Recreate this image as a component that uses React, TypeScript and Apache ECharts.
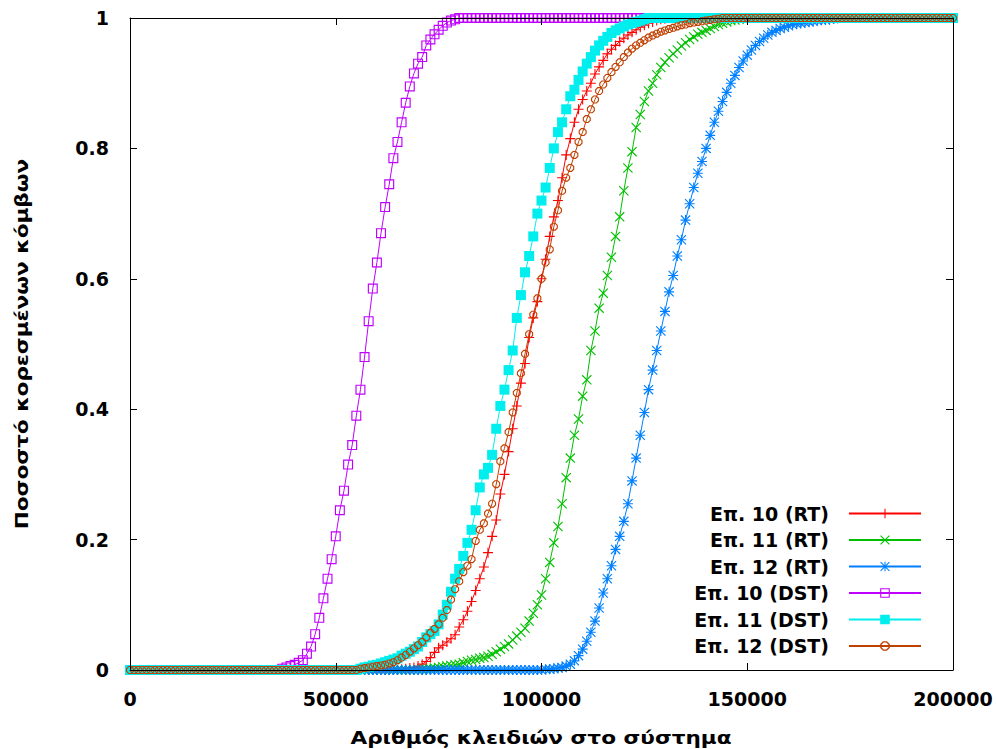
import React, { useEffect, useRef } from "react";
import * as echarts from "echarts";

// x sampling positions: number of keys, every 1000 from 0 to 200000
const keys: number[] = [];
for (let k = 0; k <= 200000; k += 1000) keys.push(k);

const seriesNames = [
  "Επ. 10 (RT)",
  "Επ. 11 (RT)",
  "Επ. 12 (RT)",
  "Επ. 10 (DST)",
  "Επ. 11 (DST)",
  "Επ. 12 (DST)",
];

const xTitle = "Αριθμός κλειδιών στο σύστημα";
const yTitle = "Ποσοστό κορεσμένων κόμβων";

// Επ. 10 (RT)
const rt10 = [
  0, 0, 0, 0, 0, 0, 0, 0, 0, 0, // 0k
  0, 0, 0, 0, 0, 0, 0, 0, 0, 0, // 10k
  0, 0, 0, 0, 0, 0, 0, 0, 0, 0, // 20k
  0, 0, 0, 0, 0, 0, 0, 0, 0, 0, // 30k
  0, 0, 0, 0, 0, 0, 0, 0, 0, 0, // 40k
  0, 0, 0, 0, 0, 0, 0, 0, 0, 0, // 50k
  0, 0, 0, 0, 0, 0, 0.001, 0.002, 0.003, 0.004, // 60k
  0.006, 0.009, 0.013, 0.019, 0.027, 0.034, 0.038, 0.043, 0.048, 0.054, // 70k
  0.066, 0.077, 0.09, 0.105, 0.122, 0.14, 0.158, 0.18, 0.205, 0.23, // 80k
  0.27, 0.3, 0.335, 0.37, 0.405, 0.44, 0.47, 0.51, 0.54, 0.565, // 90k
  0.6, 0.63, 0.665, 0.695, 0.72, 0.755, 0.79, 0.815, 0.84, 0.86, // 100k
  0.875, 0.888, 0.9, 0.914, 0.925, 0.935, 0.945, 0.952, 0.958, 0.964, // 110k
  0.969, 0.974, 0.978, 0.982, 0.986, 0.989, 0.992, 0.994, 0.996, 0.998, // 120k
  0.999, 1, 1, 1, 1, 1, 1, 1, 1, 1, // 130k
  1, 1, 1, 1, 1, 1, 1, 1, 1, 1, // 140k
  1, 1, 1, 1, 1, 1, 1, 1, 1, 1, // 150k
  1, 1, 1, 1, 1, 1, 1, 1, 1, 1, // 160k
  1, 1, 1, 1, 1, 1, 1, 1, 1, 1, // 170k
  1, 1, 1, 1, 1, 1, 1, 1, 1, 1, // 180k
  1, 1, 1, 1, 1, 1, 1, 1, 1, 1, // 190k
  1, // 200k
];

// Επ. 11 (RT)
const rt11 = [
  0, 0, 0, 0, 0, 0, 0, 0, 0, 0, // 0k
  0, 0, 0, 0, 0, 0, 0, 0, 0, 0, // 10k
  0, 0, 0, 0, 0, 0, 0, 0, 0, 0, // 20k
  0, 0, 0, 0, 0, 0, 0, 0, 0, 0, // 30k
  0, 0, 0, 0, 0, 0, 0, 0, 0, 0, // 40k
  0, 0, 0, 0, 0, 0, 0, 0, 0, 0, // 50k
  0, 0, 0, 0, 0, 0, 0, 0, 0, 0, // 60k
  0, 0.001, 0.002, 0.002, 0.003, 0.004, 0.005, 0.006, 0.007, 0.008, // 70k
  0.009, 0.011, 0.013, 0.015, 0.016, 0.018, 0.019, 0.021, 0.024, 0.028, // 80k
  0.032, 0.036, 0.04, 0.046, 0.052, 0.058, 0.064, 0.075, 0.087, 0.1, // 90k
  0.115, 0.14, 0.165, 0.195, 0.22, 0.255, 0.295, 0.325, 0.36, 0.385, // 100k
  0.42, 0.445, 0.49, 0.52, 0.555, 0.578, 0.605, 0.633, 0.665, 0.695, // 110k
  0.735, 0.77, 0.795, 0.832, 0.852, 0.872, 0.888, 0.9, 0.913, 0.924, // 120k
  0.932, 0.939, 0.945, 0.951, 0.957, 0.962, 0.967, 0.971, 0.975, 0.978, // 130k
  0.981, 0.984, 0.987, 0.99, 0.992, 0.994, 0.996, 0.997, 0.998, 0.999, // 140k
  1, 1, 1, 1, 1, 1, 1, 1, 1, 1, // 150k
  1, 1, 1, 1, 1, 1, 1, 1, 1, 1, // 160k
  1, 1, 1, 1, 1, 1, 1, 1, 1, 1, // 170k
  1, 1, 1, 1, 1, 1, 1, 1, 1, 1, // 180k
  1, 1, 1, 1, 1, 1, 1, 1, 1, 1, // 190k
  1, // 200k
];

// Επ. 12 (RT)
const rt12 = [
  0, 0, 0, 0, 0, 0, 0, 0, 0, 0, // 0k
  0, 0, 0, 0, 0, 0, 0, 0, 0, 0, // 10k
  0, 0, 0, 0, 0, 0, 0, 0, 0, 0, // 20k
  0, 0, 0, 0, 0, 0, 0, 0, 0, 0, // 30k
  0, 0, 0, 0, 0, 0, 0, 0, 0, 0, // 40k
  0, 0, 0, 0, 0, 0, 0, 0, 0, 0, // 50k
  0, 0, 0, 0, 0, 0, 0, 0, 0, 0, // 60k
  0, 0, 0, 0, 0, 0, 0, 0, 0, 0, // 70k
  0, 0, 0, 0, 0, 0, 0, 0, 0, 0, // 80k
  0, 0, 0, 0, 0, 0, 0, 0, 0, 0, // 90k
  0, 0.001, 0.001, 0.002, 0.003, 0.004, 0.006, 0.009, 0.014, 0.022, // 100k
  0.032, 0.044, 0.058, 0.075, 0.095, 0.118, 0.14, 0.16, 0.185, 0.205, // 110k
  0.228, 0.255, 0.29, 0.325, 0.36, 0.395, 0.43, 0.46, 0.49, 0.52, // 120k
  0.55, 0.58, 0.605, 0.635, 0.66, 0.69, 0.715, 0.74, 0.762, 0.78, // 130k
  0.8, 0.82, 0.84, 0.857, 0.872, 0.886, 0.9, 0.912, 0.924, 0.934, // 140k
  0.943, 0.951, 0.958, 0.964, 0.969, 0.974, 0.978, 0.981, 0.984, 0.986, // 150k
  0.988, 0.99, 0.991, 0.992, 0.993, 0.994, 0.995, 0.996, 0.997, 0.997, // 160k
  0.998, 0.999, 1, 1, 1, 1, 1, 1, 1, 1, // 170k
  1, 1, 1, 1, 1, 1, 1, 1, 1, 1, // 180k
  1, 1, 1, 1, 1, 1, 1, 1, 1, 1, // 190k
  1, // 200k
];

// Επ. 10 (DST)
const dst10 = [
  0, 0, 0, 0, 0, 0, 0, 0, 0, 0, // 0k
  0, 0, 0, 0, 0, 0, 0, 0, 0, 0, // 10k
  0, 0, 0, 0, 0, 0, 0, 0, 0, 0, // 20k
  0, 0, 0, 0, 0, 0, 0, 0.002, 0.004, 0.006, // 30k
  0.008, 0.011, 0.015, 0.025, 0.036, 0.055, 0.08, 0.11, 0.14, 0.17, // 40k
  0.205, 0.245, 0.275, 0.315, 0.345, 0.39, 0.43, 0.48, 0.535, 0.585, // 50k
  0.625, 0.67, 0.71, 0.745, 0.785, 0.81, 0.84, 0.87, 0.895, 0.915, // 60k
  0.93, 0.94, 0.958, 0.967, 0.975, 0.982, 0.988, 0.993, 0.996, 0.998, // 70k
  1, 1, 1, 1, 1, 1, 1, 1, 1, 1, // 80k
  1, 1, 1, 1, 1, 1, 1, 1, 1, 1, // 90k
  1, 1, 1, 1, 1, 1, 1, 1, 1, 1, // 100k
  1, 1, 1, 1, 1, 1, 1, 1, 1, 1, // 110k
  1, 1, 1, 1, 1, 1, 1, 1, 1, 1, // 120k
  1, 1, 1, 1, 1, 1, 1, 1, 1, 1, // 130k
  1, 1, 1, 1, 1, 1, 1, 1, 1, 1, // 140k
  1, 1, 1, 1, 1, 1, 1, 1, 1, 1, // 150k
  1, 1, 1, 1, 1, 1, 1, 1, 1, 1, // 160k
  1, 1, 1, 1, 1, 1, 1, 1, 1, 1, // 170k
  1, 1, 1, 1, 1, 1, 1, 1, 1, 1, // 180k
  1, 1, 1, 1, 1, 1, 1, 1, 1, 1, // 190k
  1, // 200k
];

// Επ. 11 (DST)
const dst11 = [
  0, 0, 0, 0, 0, 0, 0, 0, 0, 0, // 0k
  0, 0, 0, 0, 0, 0, 0, 0, 0, 0, // 10k
  0, 0, 0, 0, 0, 0, 0, 0, 0, 0, // 20k
  0, 0, 0, 0, 0, 0, 0, 0, 0, 0, // 30k
  0, 0, 0, 0, 0, 0, 0, 0, 0, 0, // 40k
  0, 0, 0, 0, 0, 0, 0.002, 0.004, 0.005, 0.007, // 50k
  0.008, 0.01, 0.012, 0.014, 0.016, 0.018, 0.022, 0.025, 0.028, 0.032, // 60k
  0.036, 0.043, 0.05, 0.055, 0.06, 0.07, 0.085, 0.1, 0.12, 0.14, // 70k
  0.155, 0.175, 0.195, 0.215, 0.245, 0.28, 0.3, 0.31, 0.33, 0.37, // 80k
  0.405, 0.43, 0.46, 0.49, 0.54, 0.575, 0.61, 0.635, 0.665, 0.7, // 90k
  0.72, 0.74, 0.77, 0.8, 0.825, 0.84, 0.86, 0.88, 0.89, 0.905, // 100k
  0.918, 0.93, 0.94, 0.95, 0.958, 0.965, 0.971, 0.977, 0.981, 0.984, // 110k
  0.987, 0.99, 0.992, 0.994, 0.996, 0.998, 1, 1, 1, 1, // 120k
  1, 1, 1, 1, 1, 1, 1, 1, 1, 1, // 130k
  1, 1, 1, 1, 1, 1, 1, 1, 1, 1, // 140k
  1, 1, 1, 1, 1, 1, 1, 1, 1, 1, // 150k
  1, 1, 1, 1, 1, 1, 1, 1, 1, 1, // 160k
  1, 1, 1, 1, 1, 1, 1, 1, 1, 1, // 170k
  1, 1, 1, 1, 1, 1, 1, 1, 1, 1, // 180k
  1, 1, 1, 1, 1, 1, 1, 1, 1, 1, // 190k
  1, // 200k
];

// Επ. 12 (DST)
const dst12 = [
  0, 0, 0, 0, 0, 0, 0, 0, 0, 0, // 0k
  0, 0, 0, 0, 0, 0, 0, 0, 0, 0, // 10k
  0, 0, 0, 0, 0, 0, 0, 0, 0, 0, // 20k
  0, 0, 0, 0, 0, 0, 0, 0, 0, 0, // 30k
  0, 0, 0, 0, 0, 0, 0, 0, 0, 0, // 40k
  0, 0, 0, 0, 0, 0, 0.002, 0.003, 0.004, 0.005, // 50k
  0.006, 0.007, 0.008, 0.01, 0.012, 0.015, 0.019, 0.023, 0.028, 0.033, // 60k
  0.038, 0.043, 0.05, 0.057, 0.063, 0.07, 0.08, 0.092, 0.108, 0.124, // 70k
  0.136, 0.15, 0.16, 0.17, 0.198, 0.215, 0.225, 0.24, 0.255, 0.285, // 80k
  0.32, 0.34, 0.365, 0.395, 0.425, 0.455, 0.485, 0.515, 0.545, 0.57, // 90k
  0.6, 0.625, 0.645, 0.68, 0.705, 0.735, 0.755, 0.77, 0.79, 0.81, // 100k
  0.825, 0.845, 0.86, 0.875, 0.888, 0.898, 0.908, 0.917, 0.925, 0.932, // 110k
  0.94, 0.947, 0.953, 0.958, 0.962, 0.966, 0.97, 0.973, 0.976, 0.979, // 120k
  0.981, 0.983, 0.985, 0.987, 0.989, 0.99, 0.992, 0.993, 0.994, 0.995, // 130k
  0.996, 0.997, 0.998, 0.999, 1, 1, 1, 1, 1, 1, // 140k
  1, 1, 1, 1, 1, 1, 1, 1, 1, 1, // 150k
  1, 1, 1, 1, 1, 1, 1, 1, 1, 1, // 160k
  1, 1, 1, 1, 1, 1, 1, 1, 1, 1, // 170k
  1, 1, 1, 1, 1, 1, 1, 1, 1, 1, // 180k
  1, 1, 1, 1, 1, 1, 1, 1, 1, 1, // 190k
  1, // 200k
];

const seriesValues = [rt10, rt11, rt12, dst10, dst11, dst12];
const seriesColors = ["#ff0000", "#00c000", "#0080ff", "#c000ff", "#00eeee", "#c04000"];

// gnuplot-like point types
const PLUS_D = "M0 4.45L10 4.45L10 5.55L0 5.55Z M4.45 0L5.55 0L5.55 10L4.45 10Z";
const CROSS_D = "M0 0.8L0.8 0L10 9.2L9.2 10Z M9.2 0L10 0.8L0.8 10L0 9.2Z";
const SQUARE_EMPTY_D = "M0 0L10 0L10 10L0 10Z M1.15 1.15L1.15 8.85L8.85 8.85L8.85 1.15Z";
const OCT_D =
  "M3 0L7 0L10 3L10 7L7 10L3 10L0 7L0 3Z M3.6 1.4L1.4 3.6L1.4 6.4L3.6 8.6L6.4 8.6L8.6 6.4L8.6 3.6L6.4 1.4Z";
const seriesSymbols = [
  "path://" + PLUS_D,
  "path://" + CROSS_D,
  "path://" + PLUS_D + " " + CROSS_D,
  "path://" + SQUARE_EMPTY_D,
  "rect",
  "path://" + OCT_D,
];
const seriesSymbolSizes = [10, 10, 10, 10, 10, 8];

const FONT = "DejaVu Sans";

export default function App() {
  const ref = useRef<HTMLDivElement>(null);
  useEffect(() => {
    if (!ref.current) return;
    const chart = echarts.init(ref.current, null, { renderer: "svg" });
    const axisCommon = {
      type: "value" as const,
      axisLine: { show: true, onZero: false, lineStyle: { color: "#000", width: 1 } },
      axisTick: { show: true, inside: true, length: 7, lineStyle: { color: "#000", width: 1 } },
      splitLine: { show: false },
      z: 10,
    };
    const labelStyle = {
      color: "#000",
      fontFamily: FONT,
      fontWeight: "bold" as const,
      fontSize: 19,
    };
    chart.setOption({
      animation: false,
      backgroundColor: "#fff",
      grid: { left: 130, right: 44, top: 18, bottom: 79, show: false, outerBoundsMode: "none" },
      xAxis: [
        {
          ...axisCommon,
          position: "bottom",
          min: 0,
          max: 200000,
          interval: 50000,
          axisLabel: { ...labelStyle, margin: 19, formatter: (v: number) => String(v) },
        },
        {
          ...axisCommon,
          position: "top",
          min: 0,
          max: 200000,
          interval: 50000,
          axisLabel: { show: false },
        },
      ],
      yAxis: [
        {
          ...axisCommon,
          position: "left",
          min: 0,
          max: 1,
          interval: 0.2,
          axisLabel: {
            ...labelStyle,
            margin: 21,
            formatter: (v: number) => String(Math.round(v * 10) / 10),
          },
        },
        {
          ...axisCommon,
          position: "right",
          min: 0,
          max: 1,
          interval: 0.2,
          axisLabel: { show: false },
        },
      ],
      legend: {
        orient: "vertical",
        align: "right",
        right: 75,
        top: 504,
        padding: 0,
        itemWidth: 72,
        itemHeight: 12,
        itemGap: 7.5,
        selectedMode: false,
        data: seriesNames,
        textStyle: {
          ...labelStyle,
          lineHeight: 18,
          padding: [0, 15, 0, 0],
        },
      },
      graphic: [
        {
          type: "text",
          x: 541,
          y: 738,
          scaleX: 1.2,
          style: {
            text: xTitle,
            font: `bold 18px "${FONT}"`,
            fill: "#000",
            align: "center",
            verticalAlign: "middle",
          },
        },
        {
          type: "text",
          x: 22,
          y: 344,
          rotation: Math.PI / 2,
          scaleX: 1.2,
          style: {
            text: yTitle,
            font: `bold 18px "${FONT}"`,
            fill: "#000",
            align: "center",
            verticalAlign: "middle",
          },
        },
      ],
      series: seriesNames.map((name, si) => ({
        name,
        type: "line",
        xAxisIndex: 0,
        yAxisIndex: 0,
        data: keys.map((k, i) => [k, seriesValues[si][i]]),
        symbol: seriesSymbols[si],
        symbolSize: seriesSymbolSizes[si],
        showSymbol: true,
        clip: false,
        silent: true,
        lineStyle: { color: seriesColors[si], width: 1 },
        itemStyle: { color: seriesColors[si], borderWidth: 0 },
        emphasis: { disabled: true },
      })),
    });
    return () => chart.dispose();
  }, []);
  return (
    <div
      ref={ref}
      style={{ position: "fixed", left: 0, top: 0, width: 997, height: 749, background: "#fff" }}
    />
  );
}
